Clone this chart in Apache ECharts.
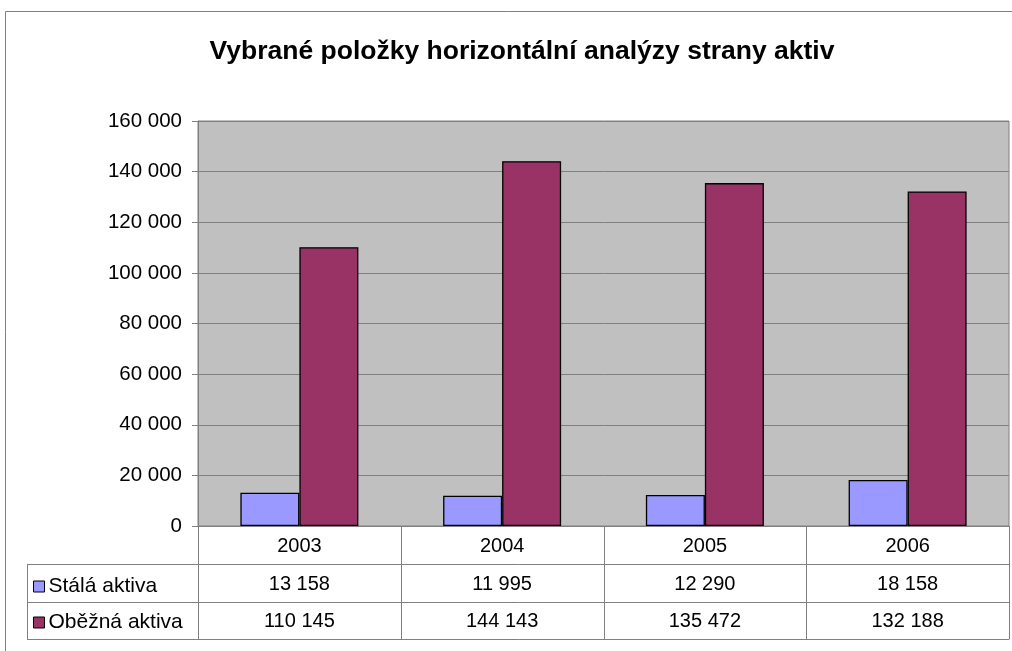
<!DOCTYPE html>
<html>
<head>
<meta charset="utf-8">
<script src="https://cdn.jsdelivr.net/npm/echarts@6/dist/echarts.min.js"></script>
<style>
  html, body { margin: 0; padding: 0; background: #fff; }
  #chart { width: 1012px; height: 651px; }
</style>
</head>
<body>
<div id="chart"></div>
<script>
var years = ['2003', '2004', '2005', '2006'];
var stalaAktiva = [13158, 11995, 12290, 18158];
var obeznaAktiva = [110145, 144143, 135472, 132188];
var seriesNames = ['Stálá aktiva', 'Oběžná aktiva'];

var FONT = '"Liberation Sans", Arial, sans-serif';
var gridL = 198, gridR = 3, gridT = 121, gridB = 125;
var rowH = 38;

function fmt(v) {
  return String(v).replace(/\B(?=(\d{3})+(?!\d))/g, ' ');
}

function rowAxis(margin, values) {
  return {
    type: 'category',
    position: 'bottom',
    data: years,
    axisLine: { show: false },
    axisTick: { show: false },
    axisLabel: {
      margin: margin, verticalAlign: 'middle',
      fontFamily: FONT, fontSize: 20, color: '#000',
      formatter: function (v, i) { return fmt(values[i]); }
    }
  };
}

var chart = echarts.init(document.getElementById('chart'));

var option = {
  backgroundColor: '#FFFFFF',
  animation: false,
  title: {
    text: 'Vybrané položky horizontální analýzy strany aktiv',
    left: 517,
    textAlign: 'center',
    top: 33,
    textStyle: { fontFamily: FONT, fontSize: 26.5, fontWeight: 'bold', color: '#000' }
  },
  legend: {
    orient: 'vertical',
    left: 28,
    top: 571,
    itemGap: 15,
    itemWidth: 11,
    itemHeight: 11,
    icon: 'rect',
    selectedMode: false,
    data: seriesNames,
    textStyle: { fontFamily: FONT, fontSize: 21, color: '#000', padding: [0, 0, 0, -1] },
    itemStyle: { borderColor: '#000', borderWidth: 1 }
  },
  grid: {
    left: gridL, right: gridR, top: gridT, bottom: gridB,
    show: true, backgroundColor: '#C0C0C0', borderColor: '#808080', borderWidth: 1
  },
  xAxis: [
    {
      type: 'category',
      position: 'bottom',
      data: years,
      axisLine: { lineStyle: { color: '#808080' } },
      axisTick: { show: false },
      axisLabel: {
        margin: 20, verticalAlign: 'middle',
        fontFamily: FONT, fontSize: 20, color: '#000'
      }
    },
    rowAxis(58, stalaAktiva),
    rowAxis(95, obeznaAktiva)
  ],
  yAxis: {
    type: 'value',
    min: 0, max: 160000, interval: 20000,
    axisLine: { show: true, lineStyle: { color: '#808080' } },
    axisTick: { show: true, length: 6, lineStyle: { color: '#808080' } },
    splitLine: { lineStyle: { color: '#808080', width: 1 } },
    axisLabel: {
      margin: 16,
      fontFamily: FONT, fontSize: 20.5, color: '#000',
      formatter: function (v) { return fmt(v); }
    }
  },
  series: [
    {
      name: seriesNames[0],
      type: 'bar',
      data: stalaAktiva,
      barWidth: 59,
      barGap: '0%',
      itemStyle: { color: '#9999FF', borderColor: '#000', borderWidth: 1.3 }
    },
    {
      name: seriesNames[1],
      type: 'bar',
      data: obeznaAktiva,
      barWidth: 59,
      barGap: '0%',
      itemStyle: { color: '#993366', borderColor: '#000', borderWidth: 1.3 }
    }
  ]
};

chart.setOption(option);

// data table borders and outer frame
(function () {
  var W = chart.getWidth(), H = chart.getHeight();
  var x0 = gridL, x1 = W - gridR, y0 = H - gridB;
  var tableLeft = 27;
  var band = (x1 - x0) / years.length;
  var lineStyle = { stroke: '#808080', lineWidth: 1 };
  var els = [];
  function line(ax, ay, bx, by) {
    els.push({ type: 'line', silent: true, z: 10,
      shape: { x1: ax, y1: ay, x2: bx, y2: by }, style: lineStyle });
  }
  for (var i = 0; i <= years.length; i++) {
    var x = Math.round(x0 + band * i) + 0.5;
    line(x, y0, x, y0 + rowH * 3 - 1);
  }
  line(tableLeft + 0.5, y0 + rowH, tableLeft + 0.5, y0 + rowH * 3 - 1);
  for (var r = 1; r <= 3; r++) {
    var y = y0 + rowH * r - (r === 3 ? 1 : 0) + 0.5;
    line(tableLeft, y, x1 + 0.5, y);
  }
  // outer chart frame
  line(5.5, 11.5, W, 11.5);
  line(5.5, 11.5, 5.5, H);
  chart.setOption({ graphic: els });
})();
</script>
</body>
</html>
